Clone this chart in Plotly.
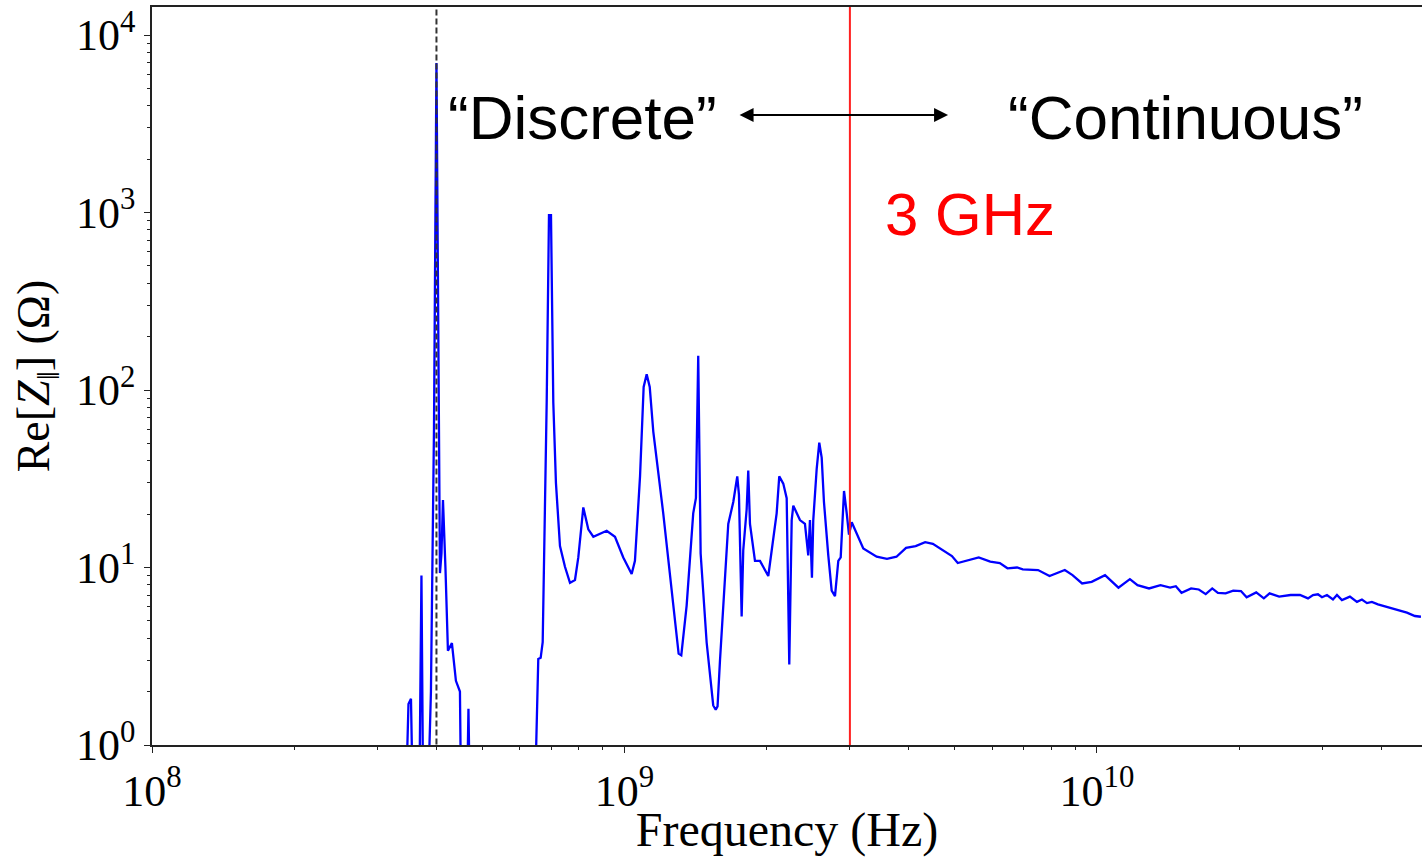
import plotly.graph_objects as go

# ---------------- data ----------------
freq_ghz = [
    0.343, 0.349, 0.3533, 0.3576, 0.3673, 0.3718, 0.3754, 0.3819, 0.3894, 0.3952,
    0.400, 0.4030, 0.4069, 0.4099, 0.4129, 0.4179, 0.4230, 0.4313, 0.4398, 0.4485,
    0.4519, 0.4630, 0.4675, 0.4721,
    0.6434, 0.6570, 0.6647, 0.6713, 0.6845, 0.6922, 0.6990, 0.7069, 0.7161, 0.7303,
    0.7483, 0.7668, 0.7857, 0.7985, 0.8182, 0.8384, 0.8591, 0.9170, 0.9548, 0.9942,
    1.0356, 1.0524, 1.0788, 1.0980, 1.1143, 1.1310, 1.1508, 1.2080, 1.2683, 1.3020,
    1.3190, 1.3539, 1.3980,
    1.4165, 1.4326, 1.4495, 1.4926, 1.5412, 1.5600, 1.5740, 1.5925, 1.6584, 1.6994, 1.7327,
    1.7471, 1.7701, 1.7840, 1.8139, 1.8281, 1.8434, 1.8889, 1.9355, 2.0155, 2.0994,
    2.1262, 2.1683, 2.2046, 2.2327, 2.2591, 2.2768, 2.3518, 2.4099, 2.4491, 2.4695,
    2.4935, 2.5096, 2.5517, 2.5842, 2.6147, 2.6438, 2.7000, 2.7451, 2.7898, 2.8352,
    2.8687, 2.9153, 2.9539, 2.9867, 3.0269, 3.2022, 3.4183, 3.5944, 3.7645, 3.9446,
    4.1334, 4.3291, 4.4947, 4.7534, 4.9330, 5.0747, 5.3150, 5.6209, 5.9454, 6.2300,
    6.4655, 6.7745, 6.9660, 7.5055, 7.9369, 8.5507, 8.8775, 9.3028, 9.7455, 10.402,
    11.105, 11.743, 12.186, 12.889, 13.631, 14.284, 14.689, 15.101, 15.824, 16.429,
    16.992, 17.539, 18.032, 18.722, 19.429, 20.176, 20.741, 21.733, 22.554, 23.201,
    24.300, 25.700, 26.90, 27.97, 28.66, 29.36, 29.94, 30.68, 31.59, 32.21,
    33.00, 34.31, 35.51, 36.38, 37.28, 38.19, 39.33, 41.10, 43.15, 45.30,
    47.10, 48.50,
]
re_z_ohm = [
    0.3, 1.7, 1.82, 0.3, 0.3, 9.0, 0.3, 0.3, 2.0, 60.0,
    6950, 400, 9.3, 12.0, 24.0, 10.0, 3.4, 3.75, 2.3, 2.0,
    0.3, 0.3, 1.6, 0.3,
    0.3, 3.05, 3.1, 3.8, 85.6, 968, 968, 85.0, 29.9, 13.2,
    10.1, 8.19, 8.5, 11.4, 21.8, 16.4, 14.9, 16.1, 14.9, 11.4,
    9.2, 10.9, 32.6, 104, 122.7, 104, 58.3, 20.2, 6.1, 3.27,
    3.2, 6.1, 20.2,
    24.6, 156, 12.0, 3.78, 1.67, 1.58, 1.65, 2.97, 17.6, 23.4, 32.6,
    25.7, 5.3, 12.5, 21.3, 35.2, 17.6, 10.9, 10.9, 8.96, 20.2,
    32.6, 29.7, 24.6, 2.84, 18.5, 22.3, 18.5, 17.6, 11.7, 18.5,
    8.76, 18.5, 36.0, 50.5, 41.6, 23.4, 11.7, 7.4, 6.9, 10.9,
    11.4, 27.0, 20.2, 15.3, 18.0, 12.8, 11.5, 11.2, 11.5, 12.9,
    13.2, 13.9, 13.6, 12.3, 11.6, 10.6, 11.0, 11.4, 10.8, 10.6,
    9.9, 10.0, 9.77, 9.68, 8.95, 9.68, 9.06, 8.13, 8.31, 9.06,
    7.7, 8.6, 7.96, 7.62, 7.96, 7.7, 7.85, 7.2, 7.62, 7.52,
    7.08, 7.62, 7.2, 7.15, 7.4, 7.37, 6.8, 7.24, 6.7, 7.15,
    6.85, 7.0, 7.0, 6.7, 7.0, 7.07, 6.8, 7.0, 6.6, 7.0,
    6.55, 6.85, 6.4, 6.6, 6.3, 6.4, 6.2, 6.0, 5.75, 5.57,
    5.33, 5.28,
]
freq_hz = [f * 1e9 for f in freq_ghz]

discrete_marker_hz = 4e8
cutoff_hz = 3e9

x_tick_vals = [1e8, 1e9, 1e10]
x_tick_text = ["10<sup>8</sup>", "10<sup>9</sup>", "10<sup>10</sup>"]
y_tick_vals = [1, 10, 100, 1000, 10000]
y_tick_text = ["10<sup>0</sup>", "10<sup>1</sup>", "10<sup>2</sup>", "10<sup>3</sup>", "10<sup>4</sup>"]
x_minor_vals = [m * 10 ** e for e in (8, 9, 10) for m in range(2, 10)]
y_minor_vals = [m * 10 ** e for e in (0, 1, 2, 3) for m in range(2, 10)]

x_range_log = [8, 10.688]
y_range_log = [0, 4.158]

serif = "Liberation Serif"
sans = "Liberation Sans"
axis_col = "#222222"

fig = go.Figure()
fig.add_trace(go.Scatter(x=freq_hz, y=re_z_ohm, mode="lines",
                         line=dict(color="#0000ff", width=2.3), hoverinfo="skip"))
fig.add_trace(go.Scatter(x=[discrete_marker_hz, discrete_marker_hz], y=[0.5, 1e5], mode="lines",
                         line=dict(color="#333333", width=2, dash="6px,3px"), hoverinfo="skip"))
fig.add_trace(go.Scatter(x=[cutoff_hz, cutoff_hz], y=[0.5, 1e5], mode="lines",
                         line=dict(color="#ff2020", width=2), hoverinfo="skip"))

fig.update_layout(
    width=1422, height=857,
    margin=dict(l=152, r=0, t=7, b=112),
    plot_bgcolor="white", paper_bgcolor="white",
    showlegend=False,
    xaxis=dict(
        type="log", range=x_range_log,
        showline=True, linecolor=axis_col, linewidth=1.5, mirror=True,
        ticks="outside", ticklen=6, tickwidth=1.2, tickcolor=axis_col,
        tickvals=x_tick_vals, ticktext=x_tick_text,
        tickfont=dict(family=serif, size=44, color="black"),
        showgrid=False, zeroline=False,
        minor=dict(ticks="outside", ticklen=3.5, tickwidth=1, tickcolor=axis_col,
                   tickvals=x_minor_vals, showgrid=False),
        title=dict(text="Frequency (Hz)", font=dict(family=serif, size=48, color="black"),
                   standoff=4),
        automargin=False,
    ),
    yaxis=dict(
        type="log", range=y_range_log,
        showline=True, linecolor=axis_col, linewidth=1.5, mirror=False,
        ticks="outside", ticklen=6, tickwidth=1.2, tickcolor=axis_col,
        tickvals=y_tick_vals, ticktext=y_tick_text,
        tickfont=dict(family=serif, size=44, color="black"),
        showgrid=False, zeroline=False,
        minor=dict(ticks="outside", ticklen=3.5, tickwidth=1, tickcolor=axis_col,
                   tickvals=y_minor_vals, showgrid=False),
        title=dict(text="Re[<i>Z</i><sub>‖</sub>] (Ω)",
                   font=dict(family=serif, size=46, color="black"), standoff=12),
        automargin=False,
    ),
)

fig.add_annotation(xref="paper", yref="paper", x=0.3390, y=0.8503,
                   text="“Discrete”", showarrow=False,
                   font=dict(family=sans, size=62, color="black"),
                   xanchor="center", yanchor="middle")
fig.add_annotation(xref="paper", yref="paper", x=0.8138, y=0.8503,
                   text="“Continuous”", showarrow=False,
                   font=dict(family=sans, size=62, color="black"),
                   xanchor="center", yanchor="middle")
fig.add_annotation(xref="paper", yref="paper", x=0.6440, y=0.7182,
                   text="3 GHz", showarrow=False,
                   font=dict(family=sans, size=60, color="#ff0000"),
                   xanchor="center", yanchor="middle")
fig.add_annotation(xref="paper", yref="paper", x=0.6268, y=0.8537,
                   ax=-210, ay=0, text="", showarrow=True,
                   arrowside="end+start", arrowhead=2, arrowsize=1.4,
                   arrowwidth=2, arrowcolor="black", standoff=0, startstandoff=0)

fig.write_html("out.html")
